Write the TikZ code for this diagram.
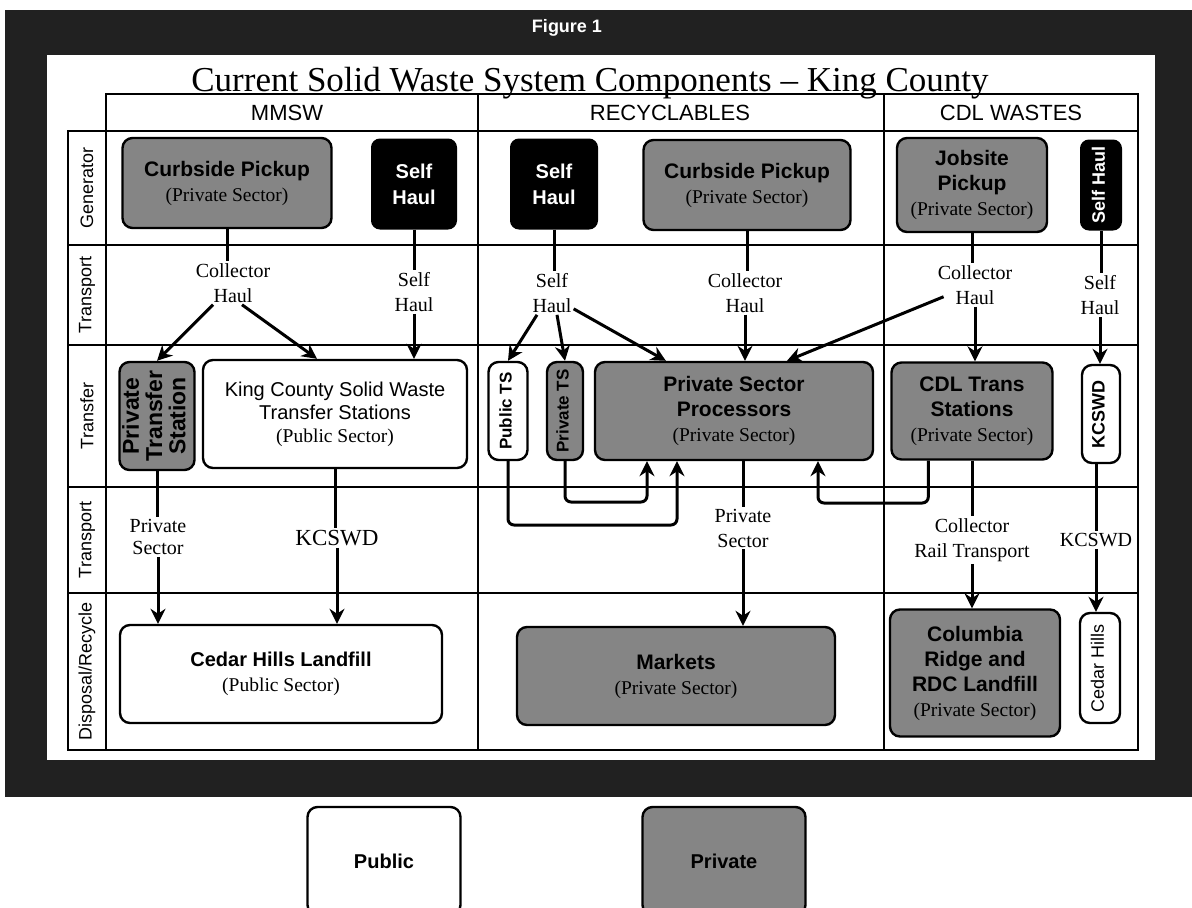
\documentclass[tikz,border=0pt]{standalone}
\usepackage{fontspec}
\setmainfont{Liberation Serif}
\setsansfont{Liberation Sans}
\usepackage{tikz}
\usetikzlibrary{arrows.meta,positioning,calc}
\definecolor{privgray}{gray}{0.52}
\definecolor{framegray}{gray}{0.13}
\newcommand{\sectlbl}[1]{{\rmfamily\mdseries\fontsize{19.5}{22}\selectfont(#1 Sector)}}
\newcommand{\vtext}[1]{\rotatebox{90}{\begin{tabular}{@{}c@{}}#1\end{tabular}}}

\begin{document}
\begin{tikzpicture}[x=1pt,y=-1pt,
		pubbox/.style={draw, line width=2.4pt, rounded corners=10pt, fill=white, align=center, inner sep=2pt, font=\sffamily\fontsize{20}{23}\selectfont},
		privbox/.style={pubbox, fill=privgray, font=\sffamily\bfseries\fontsize{21}{25}\selectfont},
		selfbox/.style={draw, line width=2pt, rounded corners=8pt, fill=black, text=white, align=center, inner sep=2pt, font=\sffamily\bfseries\fontsize{20}{26}\selectfont},
		lbl/.style={align=center, inner sep=2pt, font=\fontsize{20}{25}\selectfont},
		hdr/.style={font=\sffamily\fontsize{22}{22}\selectfont},
		rowlbl/.style={rotate=90, font=\sffamily\fontsize{18}{18}\selectfont},
		tabline/.style={line width=1.2pt},
		conn/.style={line width=3pt},
		arr/.style={line width=3pt, -{Stealth[length=15pt,width=15pt]}}]
	\useasboundingbox (0,0) rectangle (1192,908);
	\fill[framegray] (5,10) rectangle (1192,797);
	\fill[white] (47,55) rectangle (1155,760);
	\node[text=white, font=\sffamily\bfseries\fontsize{18}{18}\selectfont] (fig) at (567,28) {Figure 1};
	\node[anchor=base, font=\fontsize{35}{35}\selectfont] (title) at (590,91) {Current Solid Waste System Components – King County};
	\draw[line width=1.6pt] ($(title.base west)+(4,3)$) -- ($(title.base east)+(-4,3)$);

	% table
	\draw[tabline] (106,94) rectangle (1138,750);
	\draw[tabline] (68,131) rectangle (106,750);
	\foreach \y in {131,245,345,487,593}
		\draw[tabline] (68,\y) -- (1138,\y);
	\foreach \x in {478,884}
		\draw[tabline] (\x,94) -- (\x,750);
	\node[hdr] (hmm) at (287,113) {MMSW};
	\node[hdr] (hrec) at (670,113) {RECYCLABLES};
	\node[hdr] (hcdl) at (1011,113) {CDL WASTES};
	\node[rowlbl] (rgen) at (87,188) {Generator};
	\node[rowlbl] (rtr1) at (87,295) {Transport};
	\node[rowlbl] (rtf) at (87,416) {Transfer};
	\node[rowlbl] (rtr2) at (87,540) {Transport};
	\node[rowlbl] (rdis) at (87,671) {Disposal/Recycle};

	% generator
	\node[privbox, minimum width=209, minimum height=90] (cpm) at (227,183) {Curbside Pickup\\\sectlbl{Private}};
	\node[selfbox, minimum width=84, minimum height=89] (shm) at (414,184) {Self\\Haul};
	\node[selfbox, minimum width=86, minimum height=89] (shr) at (554,184) {Self\\Haul};
	\node[privbox, minimum width=207, minimum height=90] (cpr) at (747,185) {Curbside Pickup\\\sectlbl{Private}};
	\node[privbox, minimum width=150, minimum height=94] (jsp) at (972,185) {Jobsite\\Pickup\\\sectlbl{Private}};
	\node[selfbox, minimum width=40, minimum height=89, font=\sffamily\bfseries\fontsize{18}{18}\selectfont] (shc) at (1101,185) {\vtext{Self Haul}};

	% transport labels
	\node[lbl] (mch) at (233,283) {Collector\\Haul};
	\node[lbl] (msh) at (414,292) {Self\\Haul};
	\node[lbl] (rsh) at (552,293) {Self\\Haul};
	\node[lbl] (rch) at (745,293) {Collector\\Haul};
	\node[lbl] (cch) at (975,285) {Collector\\Haul};
	\node[lbl] (csh) at (1100,295) {Self\\Haul};

	% transfer
	\node[privbox, minimum width=75, minimum height=108, font=\sffamily\bfseries\fontsize{23}{22}\selectfont] (pts) at (157,416) {\vtext{Private\\Transfer\\Station}};
	\node[pubbox, minimum width=264, minimum height=108] (kcts) at (335,414) {King County Solid Waste\\Transfer Stations\\\sectlbl{Public}};
	\node[pubbox, minimum width=39, minimum height=98, font=\sffamily\bfseries\fontsize{17}{17}\selectfont] (pubts) at (508,411) {\vtext{Public TS}};
	\node[privbox, minimum width=36, minimum height=98, font=\sffamily\bfseries\fontsize{17}{17}\selectfont] (prits) at (565,411) {\vtext{Private TS}};
	\node[privbox, minimum width=278, minimum height=98] (proc) at (734,411) {Private Sector\\Processors\\\sectlbl{Private}};
	\node[privbox, minimum width=161, minimum height=97] (cdl) at (972,411) {CDL Trans\\Stations\\\sectlbl{Private}};
	\node[pubbox, minimum width=38, minimum height=98, font=\sffamily\bfseries\fontsize{18}{18}\selectfont] (kcb) at (1101,414) {\vtext{KCSWD}};

	% second transport labels
	\node[lbl, font=\fontsize{20}{22}\selectfont] (ps1) at (158,537) {Private\\Sector};
	\node[lbl, font=\fontsize{23}{23}\selectfont] (kcl) at (337,538) {KCSWD};
	\node[lbl] (ps2) at (743,528) {Private\\Sector};
	\node[lbl] (crt) at (972,540) {Collector\\Rail Transport};
	\node[lbl] (kc2) at (1096,540) {KCSWD};

	% disposal
	\node[pubbox, minimum width=322, minimum height=98, font=\sffamily\bfseries\fontsize{20}{25}\selectfont] (chl) at (281,674) {Cedar Hills Landfill\\\sectlbl{Public}};
	\node[privbox, minimum width=318, minimum height=98] (mkt) at (676,676) {Markets\\\sectlbl{Private}};
	\node[privbox, minimum width=170, minimum height=127] (crl) at (975,673) {Columbia\\Ridge and\\RDC Landfill\\\sectlbl{Private}};
	\node[pubbox, minimum width=40, minimum height=110, font=\sffamily\fontsize{18}{18}\selectfont] (chv) at (1100,668) {\vtext{Cedar Hills}};

	% legend
	\node[pubbox, minimum width=153, minimum height=108, font=\sffamily\bfseries\fontsize{20}{20}\selectfont] (lpub) at (384,861) {Public};
	\node[privbox, minimum width=163, minimum height=108, font=\sffamily\bfseries\fontsize{20}{20}\selectfont] (lpri) at (724,861) {Private};

	% generator to transport
	\draw[conn] (cpm.south) -- (cpm.south |- mch.north);
	\draw[conn] (shm.south) -- (shm.south |- msh.north);
	\draw[conn] (shr.south) -- (shr.south |- rsh.north);
	\draw[conn] (cpr.south) -- (cpr.south |- rch.north);
	\draw[conn] (jsp.south) -- (jsp.south |- cch.north);
	\draw[conn] (shc.south) -- (shc.south |- csh.north);

	% transport to transfer
	\draw[arr] ($(mch.south)+(-20,0)$) -- (pts.north);
	\draw[arr] ($(mch.south)+(9,0)$) -- ($(kcts.north)+(-18,0)$);
	\draw[arr] (msh.south) -- (msh.south |- kcts.north);
	\draw[arr] ($(rsh.south)+(-15,0)$) -- (pubts.north);
	\draw[arr] ($(rsh.south)+(5,0)$) -- (prits.north);
	\draw[arr] ($(rsh.south east)+(0,-6)$) -- ($(proc.north west)+(72,0)$);
	\draw[arr] (rch.south) -- (rch.south |- proc.north);
	\draw[arr] ($(cch.south west)+(8,-10)$) -- ($(proc.north)+(53,0)$);
	\draw[arr] (cch.south) -- (cch.south |- cdl.north);
	\draw[arr] (csh.south) -- (csh.south |- kcb.north);

	% loops into processors
	\coordinate (lp1) at (647,502);
	\coordinate (lp2) at (677,525);
	\coordinate (lp3) at (818,503);
	\draw[arr, rounded corners=6] (prits.south) |- (lp1) -- (lp1 |- proc.south);
	\draw[arr, rounded corners=6] (pubts.south) |- (lp2) -- (lp2 |- proc.south);
	\draw[arr, rounded corners=6] ($(cdl.south west)+(38,0)$) |- (lp3) -- (lp3 |- proc.south);

	% transfer to disposal
	\draw[conn] (pts.south) -- (pts.south |- ps1.north);
	\draw[arr] (ps1.south) -- (ps1.south |- chl.north);
	\draw[conn] (kcts.south) -- (kcts.south |- kcl.north);
	\draw[arr] (kcl.south) -- (kcl.south |- chl.north);
	\draw[conn] (proc.south -| ps2.north) -- (ps2.north);
	\draw[arr] (ps2.south) -- (ps2.south |- mkt.north);
	\draw[conn] (cdl.south -| crt.north) -- (crt.north);
	\draw[arr] (crt.south) -- (crt.south |- crl.north);
	\draw[conn] (kcb.south -| kc2.north) -- (kc2.north);
	\draw[arr] (kc2.south) -- (kc2.south |- chv.north);
\end{tikzpicture}
\end{document}
